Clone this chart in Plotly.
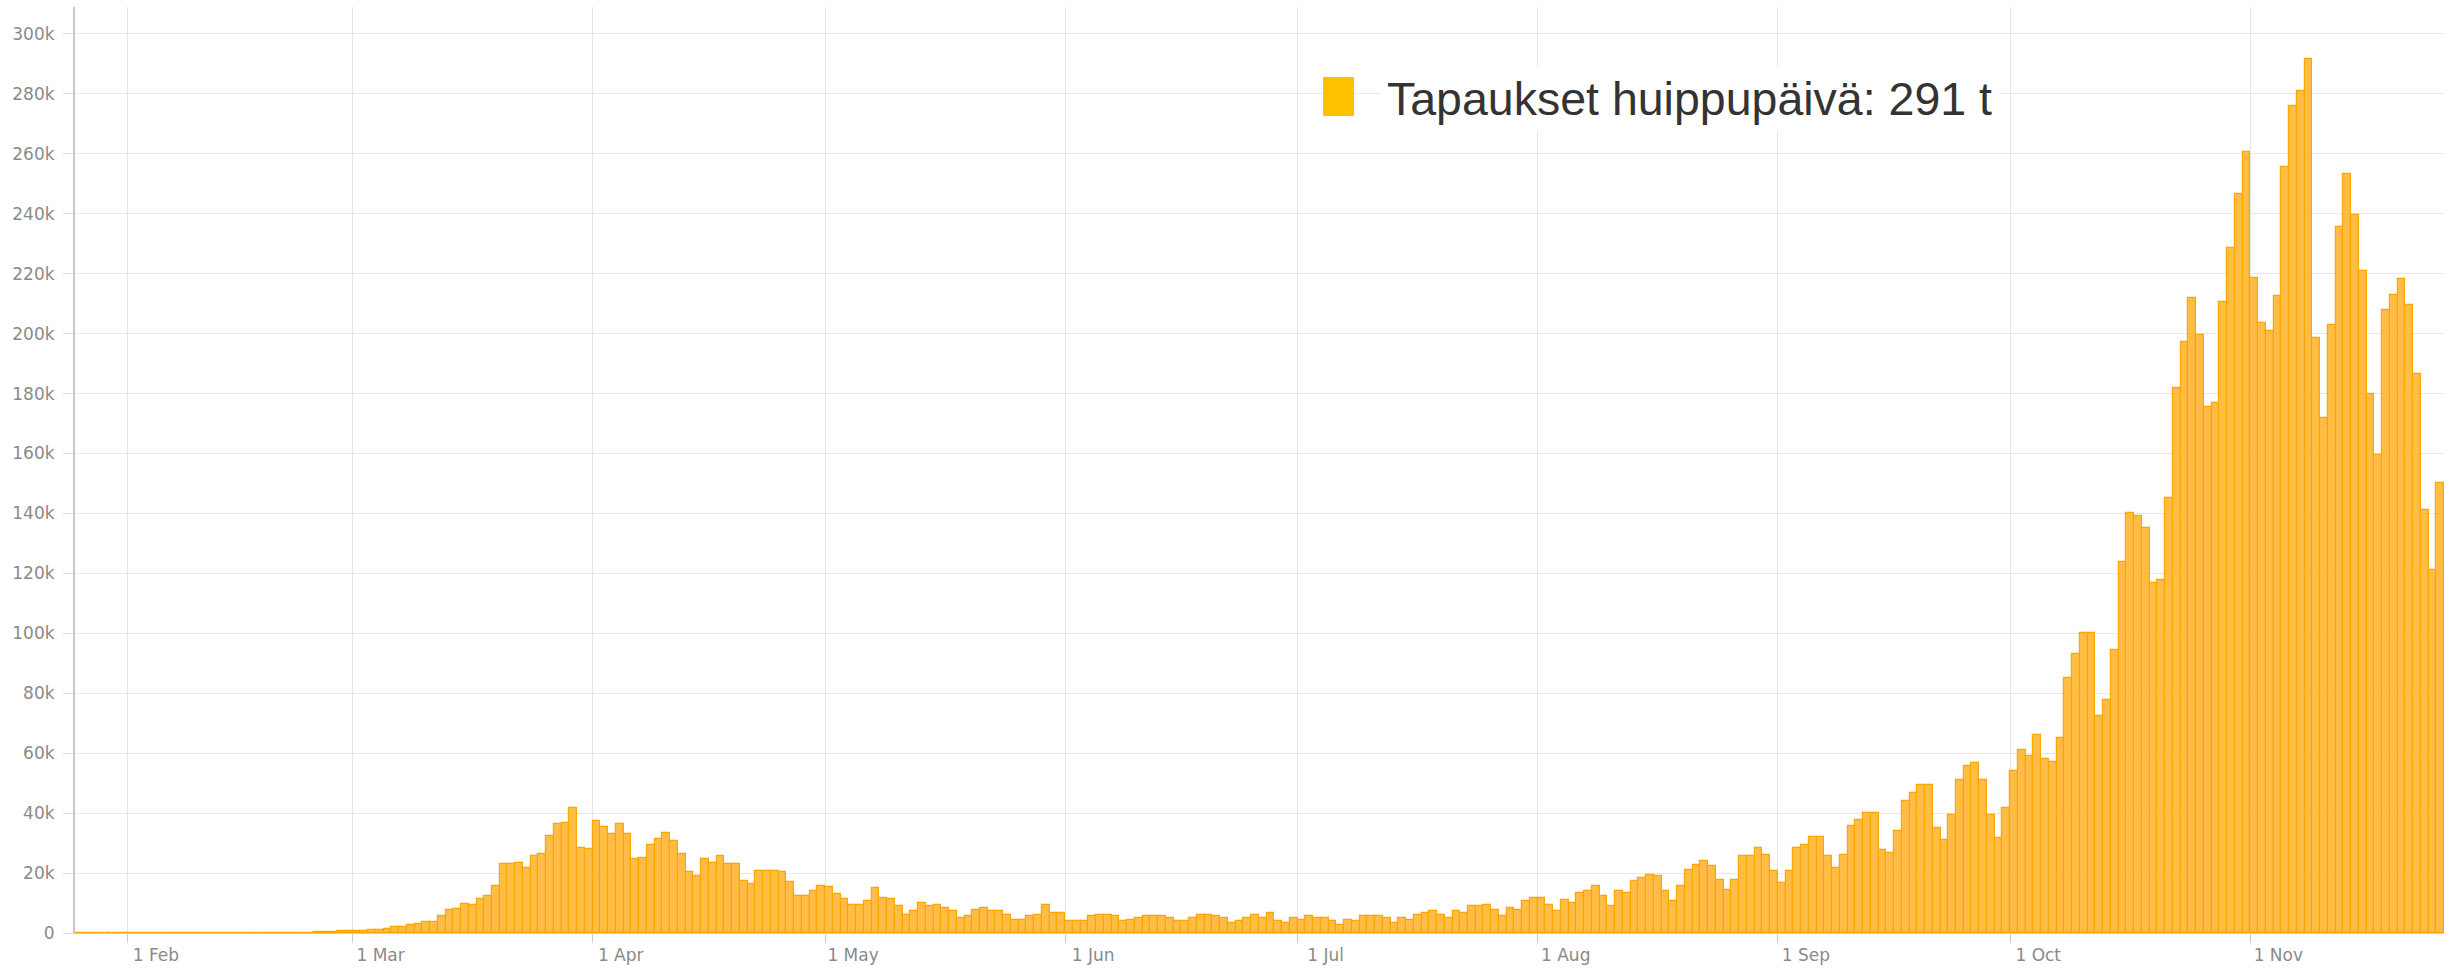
import pandas as pd
import plotly.graph_objects as go

# Daily cases (thousands)
start_date = "2020-01-25"
jan = [0.002, 0.001, 0.003, 0.004, 0.002, 0.003, 0.005]  # Jan 25-31
feb = [0.006, 0.002, 0.003, 0.004, 0.005, 0.006, 0.004, 0.003, 0.002, 0.005,
       0.006, 0.004, 0.003, 0.006, 0.005, 0.004, 0.003, 0.006, 0.008, 0.010,
       0.025, 0.090, 0.120, 0.160, 0.200, 0.280, 0.400, 0.600, 0.700]
mar = [0.8, 0.8, 0.9, 0.9, 1.4, 2.0, 2.0, 2.7, 3.0, 3.6, 3.6, 5.8, 7.6, 8.0, 9.6,
       9.3, 11.3, 12.4, 15.7, 22.9, 22.9, 23.5, 21.7, 25.7, 26.3, 32.3, 36.4,
       36.7, 41.7, 28.3, 28.0]
apr = [37.3, 35.5, 33.0, 36.4, 33.0, 24.7, 25.1, 29.2, 31.3, 33.5, 30.7, 26.3,
       20.2, 19.0, 24.7, 23.5, 25.7, 22.9, 22.9, 17.3, 16.4, 20.7, 20.7, 20.7,
       20.2, 16.9, 12.5, 12.5, 14.1, 15.8]
may = [15.3, 13.0, 11.3, 9.3, 9.3, 10.6, 15.1, 11.8, 11.4, 8.9, 6.1, 7.2, 10.0,
       9.1, 9.4, 8.3, 7.2, 5.0, 5.6, 7.8, 8.3, 7.2, 7.2, 6.1, 4.4, 4.4, 5.6, 6.1,
       9.4, 6.7, 6.7]
jun = [3.9, 3.9, 3.9, 5.6, 6.1, 6.1, 5.6, 3.9, 4.4, 5.0, 5.6, 5.6, 5.6, 5.0, 3.9,
       3.9, 5.0, 6.1, 6.1, 5.6, 5.0, 3.3, 3.9, 5.0, 6.1, 5.0, 6.7, 3.9, 3.3, 5.0]
jul = [4.4, 5.6, 5.0, 5.0, 3.9, 2.8, 4.4, 3.9, 5.6, 5.6, 5.6, 5.0, 3.3, 5.0, 4.4,
       6.1, 6.7, 7.2, 6.1, 5.0, 7.2, 6.7, 8.9, 8.9, 9.4, 7.8, 5.6, 8.3, 7.8, 10.6,
       11.7]
aug = [11.7, 9.4, 7.2, 11.1, 10.0, 13.3, 13.9, 15.6, 12.2, 8.9, 13.9, 13.3, 17.2,
       18.3, 19.4, 18.9, 13.9, 10.6, 15.6, 21.1, 22.8, 23.9, 22.2, 17.8, 14.4,
       17.8, 25.6, 25.6, 28.3, 26.1, 20.6]
sep = [16.7, 20.6, 28.3, 29.4, 32.2, 32.2, 25.6, 21.7, 26.1, 35.6, 37.8, 40.0,
       40.0, 27.8, 26.7, 33.9, 43.9, 46.7, 49.4, 49.4, 35.0, 31.1, 39.4, 51.1,
       55.6, 56.7, 51.1, 39.4, 31.7, 41.7]
oct_ = [54.0, 61.0, 59.0, 66.0, 58.0, 57.0, 65.0, 85.0, 93.0, 100.0, 100.0, 72.5,
        77.7, 94.4, 123.8, 140.0, 139.0, 135.0, 116.7, 117.8, 145.0, 181.8, 197.3,
        211.8, 199.4, 175.6, 176.7, 210.7, 228.5, 246.5, 260.7]
nov = [218.6, 203.7, 201.0, 212.4, 255.6, 276.0, 281.0, 291.5, 198.5, 172.0,
       203.0, 235.7, 253.3, 239.7, 220.9, 180.0, 159.5, 208.0, 213.0, 218.4,
       209.7, 186.4, 141.0, 121.0, 150.0]

values_k = jan + feb + mar + apr + may + jun + jul + aug + sep + oct_ + nov
cases = [round(v * 1000) for v in values_k]
dates = pd.date_range(start_date, periods=len(cases), freq="D")

y_ticks = list(range(0, 300001, 20000))
legend_text = "Tapaukset huippupäivä: 291 t"

fig = go.Figure()
fig.add_trace(go.Bar(
    x=dates, y=cases,
    xperiod=86400000, xperiodalignment="middle",
    marker=dict(color="rgba(255,178,36,0.85)",
                line=dict(color="#FFA500", width=1.2)),
    showlegend=False,
    hovertemplate="%{x|%-d %b}: %{y}<extra></extra>",
))

tick_font = dict(family="DejaVu Sans", size=17, color="#8a8a8a")

fig.update_layout(
    width=2453, height=969,
    margin=dict(l=75, r=9, t=7, b=36, autoexpand=False),
    paper_bgcolor="white", plot_bgcolor="white",
    bargap=0,
    xaxis=dict(
        type="date", automargin=False,
        range=["2020-01-25 04:00", "2020-11-26 00:00"],
        tick0="2020-02-01", dtick="M1", tickformat="%-d %b",
        showgrid=True, gridcolor="#e6e6e6", gridwidth=1,
        ticks="outside", ticklen=9, tickcolor="#cccccc",
        tickfont=tick_font, ticklabelshift=28, ticklabelstandoff=-2,
        showline=True, linecolor="#cccccc", linewidth=1,
        zeroline=False,
    ),
    yaxis=dict(
        automargin=False,
        range=[0, 309000],
        tickvals=y_ticks, tickformat="~s",
        showgrid=True, gridcolor="#e8e8e8", gridwidth=1,
        ticks="outside", ticklen=10, tickcolor="#e0e0e0",
        tickfont=tick_font, ticklabelstandoff=5,
        showline=True, linecolor="#c8c8c8", linewidth=2,
        zeroline=False,
    ),
    shapes=[dict(
        type="rect", xref="paper", yref="paper",
        x0=0.5268, x1=0.5399, y0=0.8823, y1=0.9244,
        fillcolor="#FFC000", line=dict(width=0), layer="above",
    )],
    annotations=[dict(
        text=legend_text, xref="paper", yref="paper",
        x=0.551, y=0.901, xanchor="left", yanchor="middle",
        showarrow=False, bgcolor="white", borderpad=6,
        font=dict(family="Liberation Sans", size=46.5, color="#333333"),
    )],
)

fig.write_html(
    "out.html",
    config={"displayModeBar": False},
    post_script="document.body.style.margin='0';document.body.style.overflow='hidden';",
)
